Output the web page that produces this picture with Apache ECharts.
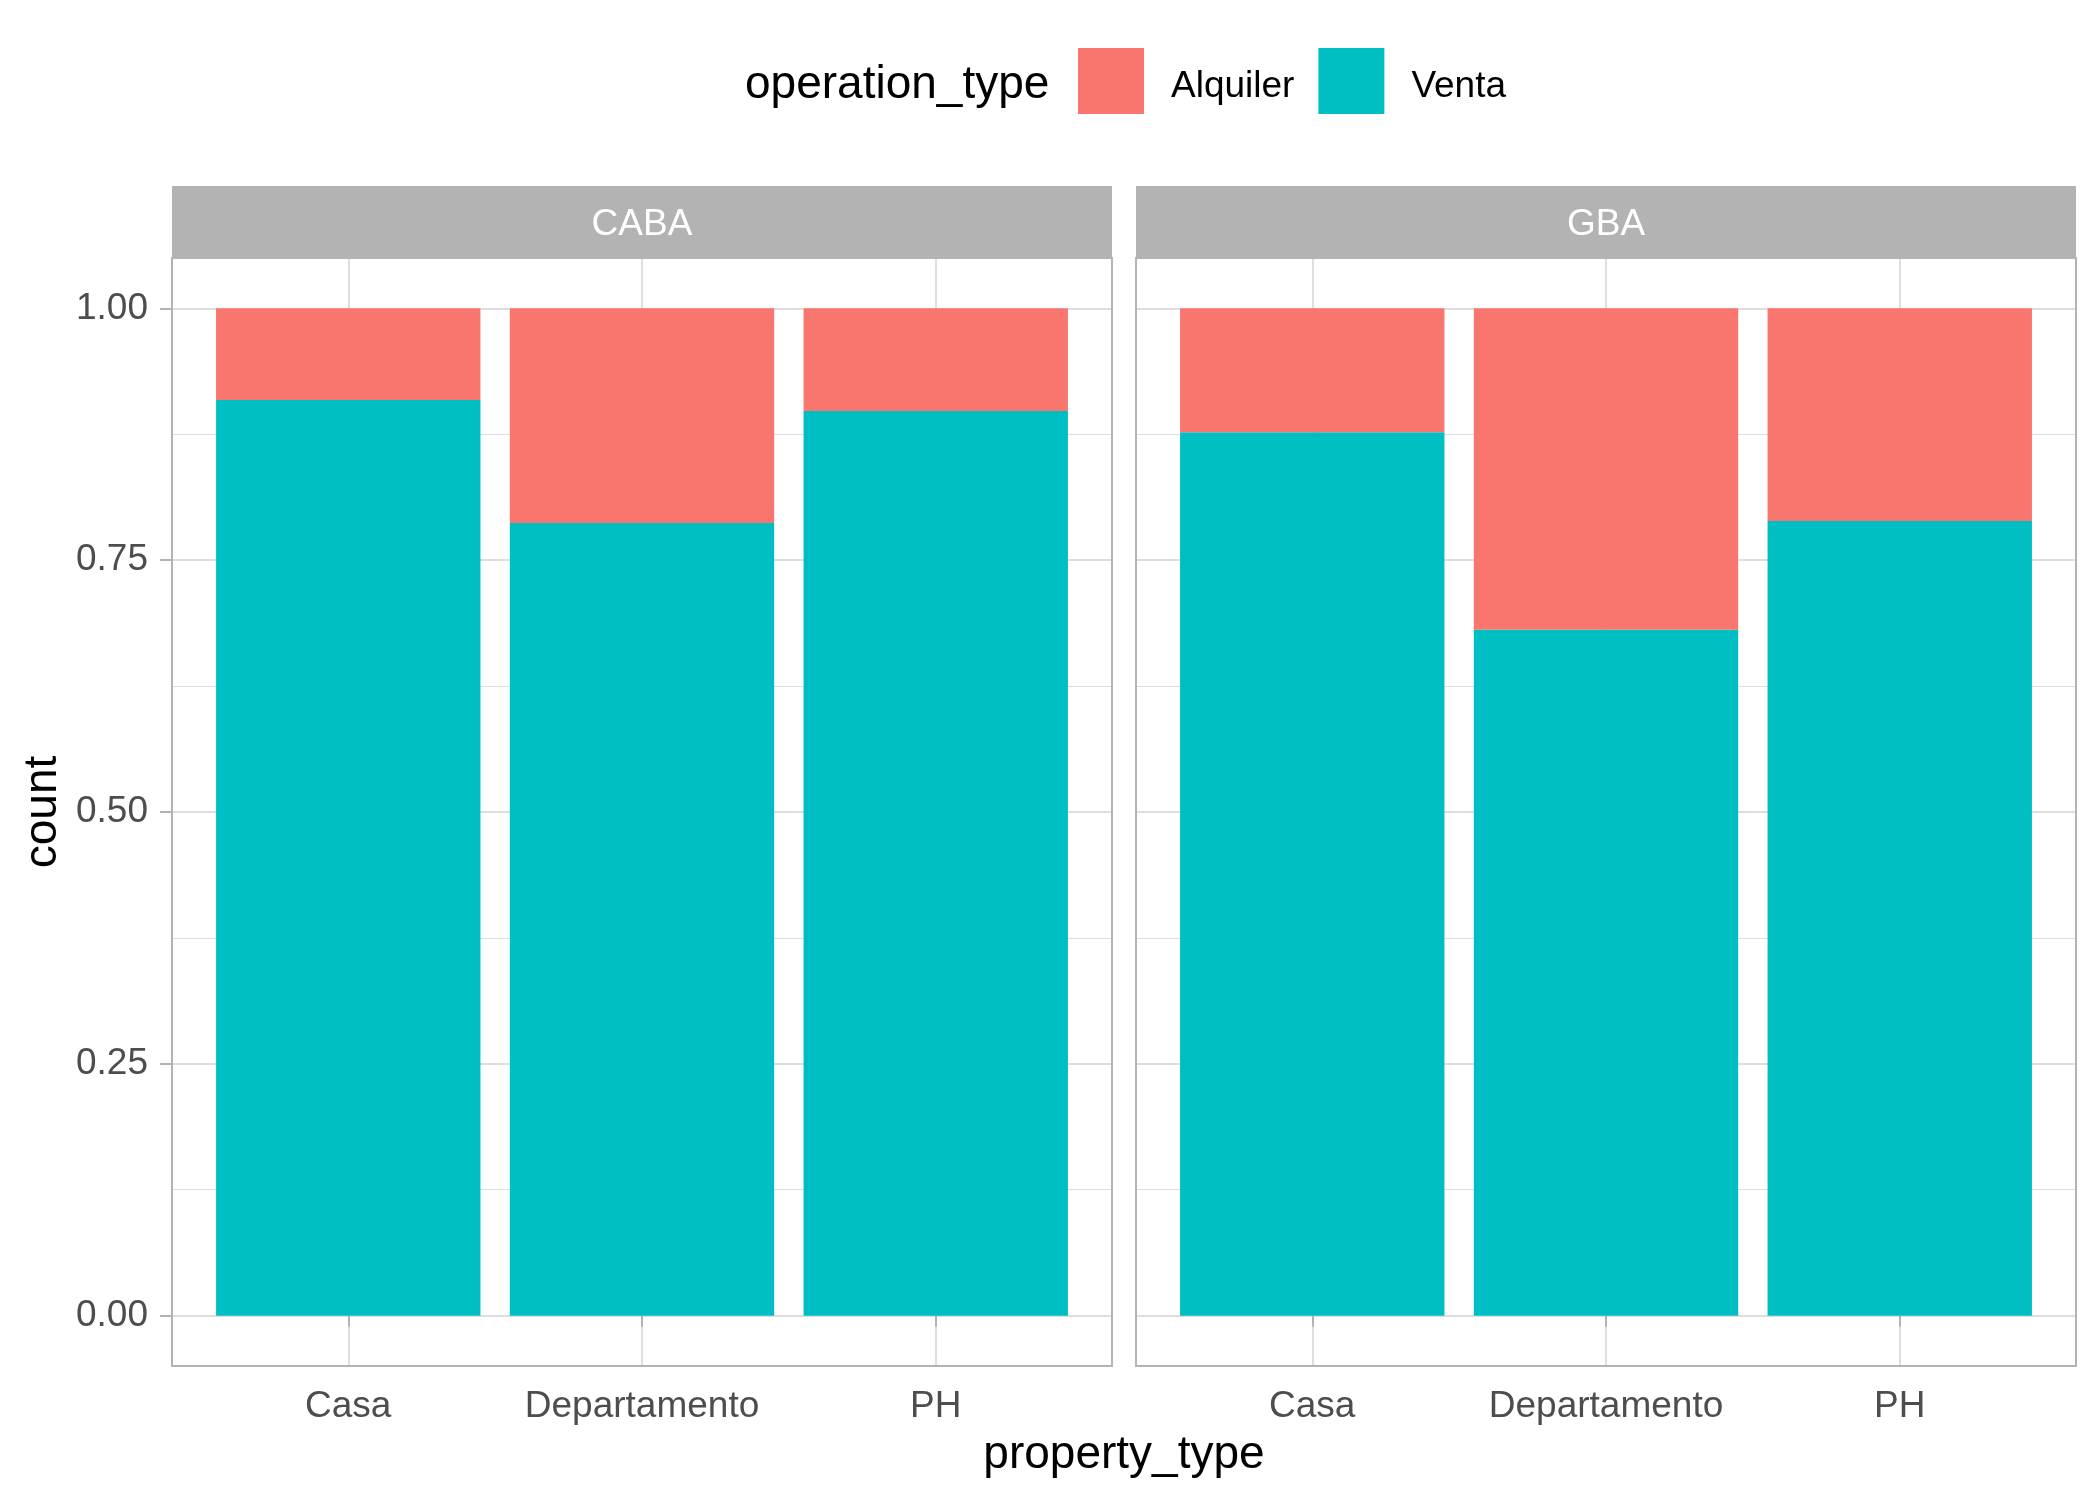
<!DOCTYPE html>
<html>
<head>
<meta charset="utf-8">
<script src="https://cdn.jsdelivr.net/npm/echarts@6/dist/echarts.min.js"></script>
<style>
  html, body { margin: 0; padding: 0; background: #fff; }
  #main { width: 2100px; height: 1500px; }
</style>
</head>
<body>
<div id="main"></div>
<script>
// data (share of listings, position = "fill")
var propertyTypes = ['Casa', 'Departamento', 'PH'];
var regions = ['CABA', 'GBA'];
var ventaCABA = [0.909, 0.787, 0.898];
var alquilerCABA = [0.091, 0.213, 0.102];
var ventaGBA = [0.877, 0.681, 0.789];
var alquilerGBA = [0.123, 0.319, 0.211];
var yTicks = [0, 0.25, 0.5, 0.75, 1];

var FONT = "'Liberation Sans', Arial, sans-serif";
var RED = '#F8766D', TEAL = '#00BFC4';
var GRID = '#DEDEDE', BORDER = '#B3B3B3';

// panel geometry (ggplot facets)
var panelLeft = [172, 1136];
var panelW = 940, panelTop = 258, panelH = 1108;
var xInset = panelW * 0.1 / 3.2;           // ggplot discrete expansion
var yPad = panelH * 0.05 / 1.1;            // ggplot continuous expansion

var chart = echarts.init(document.getElementById('main'));

var grids = [], xAxes = [], yAxes = [], series = [], graphics = [];
var venta = [ventaCABA, ventaGBA];
var alquiler = [alquilerCABA, alquilerGBA];

regions.forEach(function (reg, i) {
  var L = panelLeft[i];
  // grid for bars and vertical grid lines
  grids.push({ left: L + xInset, top: panelTop, width: panelW - 2 * xInset, height: panelH,
    containLabel: false, outerBoundsMode: 'none' });
  // grid for y labels and horizontal grid lines
  grids.push({ left: L, top: panelTop + yPad, width: panelW, height: panelH - 2 * yPad,
    containLabel: false, outerBoundsMode: 'none' });

  xAxes.push({
    type: 'category', gridIndex: 2 * i, data: propertyTypes, boundaryGap: true,
    axisLine: { show: false },
    axisTick: { show: true, interval: 0, alignWithLabel: true, length: 11, lineStyle: { color: BORDER, width: 2 } },
    axisLabel: { interval: 0, fontSize: 37, color: '#4D4D4D', margin: 22, fontFamily: FONT },
    splitLine: { show: true, interval: 0, alignWithLabel: true, lineStyle: { color: GRID, width: 2 } }
  });
  xAxes.push({ type: 'category', gridIndex: 2 * i + 1, data: propertyTypes, show: false });

  yAxes.push({ type: 'value', gridIndex: 2 * i, min: -0.05, max: 1.05, show: false });
  yAxes.push({
    type: 'value', gridIndex: 2 * i + 1, min: 0, max: 1, interval: 0.25,
    axisLine: { show: false },
    axisTick: { show: i === 0, length: 12, lineStyle: { color: BORDER, width: 2 } },
    axisLabel: { show: i === 0, fontSize: 37, color: '#4D4D4D', margin: 24, fontFamily: FONT,
      formatter: function (v) { return v.toFixed(2); } },
    splitLine: { show: true, lineStyle: { color: GRID, width: 2 } },
    minorTick: { show: false, splitNumber: 2 },
    minorSplitLine: { show: true, lineStyle: { color: GRID, width: 1 } }
  });

  series.push({
    type: 'bar', name: 'Venta', stack: reg, xAxisIndex: 2 * i, yAxisIndex: 2 * i,
    barWidth: '90%', data: venta[i], itemStyle: { color: TEAL }
  });
  series.push({
    type: 'bar', name: 'Alquiler', stack: reg, xAxisIndex: 2 * i, yAxisIndex: 2 * i,
    barWidth: '90%', data: alquiler[i], itemStyle: { color: RED }
  });

  // strip
  graphics.push({ type: 'rect', shape: { x: L, y: 186, width: panelW, height: panelTop - 186 },
    style: { fill: BORDER }, z: 50 });
  graphics.push({ type: 'text', x: L + panelW / 2, y: 225, z: 51,
    style: { text: reg, fill: '#fff', font: '37px ' + FONT, textAlign: 'center', textVerticalAlign: 'middle' } });
  // panel border
  graphics.push({ type: 'rect', shape: { x: L, y: panelTop, width: panelW, height: panelH },
    style: { fill: 'none', stroke: BORDER, lineWidth: 2 }, z: 100 });
});

// axis titles and legend title
graphics.push({ type: 'text', x: 1124, y: 1455,
  style: { text: 'property_type', fill: '#000', font: '46px ' + FONT, textAlign: 'center', textVerticalAlign: 'middle' } });
graphics.push({ type: 'text', x: 43, y: 812, rotation: Math.PI / 2,
  style: { text: 'count', fill: '#000', font: '46px ' + FONT, textAlign: 'center', textVerticalAlign: 'middle' } });
graphics.push({ type: 'text', x: 745, y: 85,
  style: { text: 'operation_type', fill: '#000', font: '46px ' + FONT, textAlign: 'left', textVerticalAlign: 'middle' } });

chart.setOption({
  animation: false,
  backgroundColor: '#fff',
  textStyle: { fontFamily: FONT },
  legend: {
    data: ['Alquiler', 'Venta'],
    left: 1078, top: 48, padding: 0, icon: 'rect',
    itemWidth: 66, itemHeight: 66, itemGap: 24,
    formatter: '{t|{name}}',
    textStyle: {
      fontSize: 37, color: '#000', fontFamily: FONT,
      rich: { t: { fontSize: 37, color: '#000', fontFamily: FONT, padding: [11, 0, 0, 22] } }
    },
    selectedMode: false
  },
  grid: grids,
  xAxis: xAxes,
  yAxis: yAxes,
  series: series,
  graphic: graphics
});
</script>
</body>
</html>
